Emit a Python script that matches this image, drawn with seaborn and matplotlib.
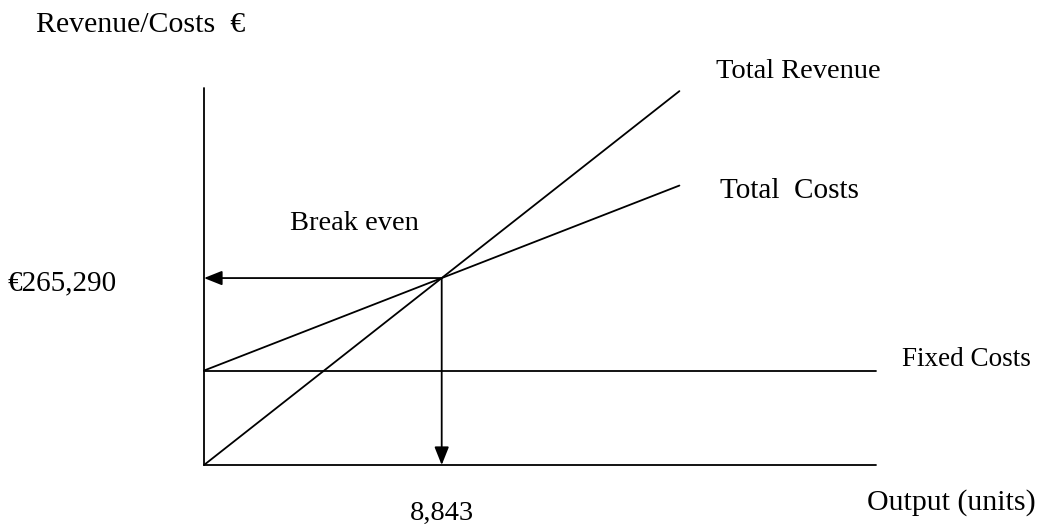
import pandas as pd
import matplotlib.pyplot as plt
import seaborn as sns

# Данные графика безубыточности
output_units = [0, 8843, 17686]
total_revenue = [0, 265290, 530580]
total_costs = [134000, 265290, 396580]
fixed_output = [0, 25000]
fixed_costs = [134000, 134000]

break_even_units = 8843
break_even_revenue = 265290

sns.set_style("white")
plt.rcParams['font.family'] = ['Liberation Serif', 'DejaVu Serif']
plt.rcParams['text.color'] = 'black'

W, H = 1044, 527
fig = plt.figure(figsize=(W / 100, H / 100), dpi=100)
ax = fig.add_axes([204 / W, 62 / H, 672 / W, 377 / H])

lines = pd.concat([
    pd.DataFrame({"output": output_units, "value": total_revenue, "series": "Total Revenue"}),
    pd.DataFrame({"output": output_units, "value": total_costs, "series": "Total Costs"}),
    pd.DataFrame({"output": fixed_output, "value": fixed_costs, "series": "Fixed Costs"}),
])
sns.lineplot(data=lines, x="output", y="value", units="series", estimator=None,
             color="black", linewidth=1.3, ax=ax, legend=False, clip_on=False)

ax.set_xlim(0, 25000)
ax.set_ylim(0, 535000)
ax.axis("off")

# оси
ax.plot([0, 0], [0, 535000], color="black", lw=1.3, clip_on=False)
ax.plot([0, 25000], [0, 0], color="black", lw=1.3, clip_on=False)

# стрелки из точки безубыточности
arrow = dict(arrowstyle="-|>,head_length=0.55,head_width=0.22", mutation_scale=20,
             color="black", lw=1.3, shrinkA=0, shrinkB=0)
ax.annotate("", xy=(0, break_even_revenue), xytext=(break_even_units, break_even_revenue),
            arrowprops=arrow, annotation_clip=False)
ax.annotate("", xy=(break_even_units, 0), xytext=(break_even_units, break_even_revenue),
            arrowprops=arrow, annotation_clip=False)

def label(x, y, s, fs, ha="left"):
    fig.text(x / W, 1 - y / H, s, ha=ha, va="center", fontsize=fs, color="black")

label(36, 25, "Revenue/Costs  €", 21.5)
label(716, 71, "Total Revenue", 20.5)
label(720, 191, "Total  Costs", 21)
label(290, 223, "Break even", 20.5)
label(902, 359, "Fixed Costs", 19.5)
label(867, 503, "Output (units)", 21.5)
label(8, 283, f"€{break_even_revenue:,}", 21)
label(442, 513, f"{break_even_units:,}", 20.5, ha="center")

fig.savefig("out.png", dpi=100)
